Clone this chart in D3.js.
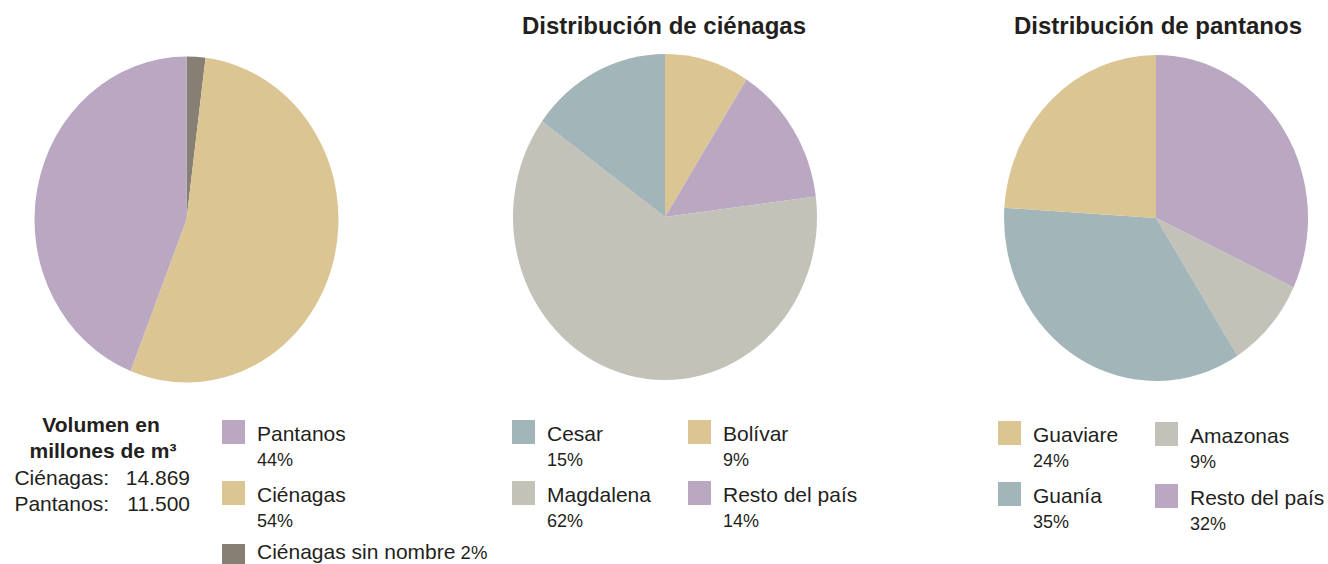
<!DOCTYPE html>
<html><head><meta charset="utf-8">
<script src="https://cdn.jsdelivr.net/npm/d3@7"></script>
<style>
html,body{margin:0;padding:0;background:#fff;}
svg{display:block;font-family:"Liberation Sans",Arial,Helvetica,sans-serif;}
</style></head>
<body>
<svg id="chart" width="1328" height="564"></svg>
<script>
// ---- data ----
const totalLabels = ["Ciénagas sin nombre", "Ciénagas", "Pantanos"];
const totalValues = [2, 54, 44];
const cienagaLabels = ["Bolívar", "Resto del país", "Magdalena", "Cesar"];
const cienagaValues = [9, 14, 62, 15];
const pantanoLabels = ["Resto del país", "Amazonas", "Guanía", "Guaviare"];
const pantanoValues = [32, 9, 35, 24];
const volumeLabels = ["Ciénagas:", "Pantanos:"];
const volumeValues = ["14.869", "11.500"];
const titles = ["Distribución de ciénagas", "Distribución de pantanos"];

const colorOf = {
  "Pantanos": "#BAA8C3", "Ciénagas": "#DBC593", "Ciénagas sin nombre": "#877F73",
  "Bolívar": "#DBC593", "Resto del país": "#BAA8C3", "Magdalena": "#C2C2B9", "Cesar": "#A2B5B8",
  "Amazonas": "#C2C2B9", "Guanía": "#A2B5B8", "Guaviare": "#DBC593"
};
const TXT = "#231F20";

const svg = d3.select("#chart");
const RY = 163, RX = 152;
const arc = d3.arc().innerRadius(0).outerRadius(RY);
const pie = d3.pie().sort(null).value(d => d.v);

function drawPie(cx, cy, labels, values) {
  const data = labels.map((l, i) => ({l, v: values[i]}));
  const g = svg.append("g").attr("transform", `translate(${cx},${cy}) scale(${RX/RY},1)`);
  g.selectAll("path").data(pie(data)).join("path")
    .attr("d", arc).attr("fill", d => colorOf[d.data.l]);
}
drawPie(186.5, 219.5, totalLabels, totalValues);
drawPie(665, 217, cienagaLabels, cienagaValues);
drawPie(1156, 218, pantanoLabels, pantanoValues);

// titles
svg.append("text").attr("x", 664).attr("y", 34).attr("text-anchor", "middle")
  .attr("font-size", 24).attr("font-weight", "bold").attr("fill", TXT).text(titles[0]);
svg.append("text").attr("x", 1158).attr("y", 34).attr("text-anchor", "middle")
  .attr("font-size", 24).attr("font-weight", "bold").attr("fill", TXT).text(titles[1]);

// volume block
const vb = svg.append("g").attr("fill", TXT).attr("font-size", 21);
vb.append("text").attr("x", 101).attr("y", 432).attr("text-anchor", "middle").attr("font-weight", "bold").text("Volumen en");
const t2 = vb.append("text").attr("x", 103).attr("y", 458).attr("text-anchor", "middle").attr("font-weight", "bold");
t2.append("tspan").text("millones de m");
t2.append("tspan").text("³");
volumeLabels.forEach((l, i) => {
  vb.append("text").attr("x", 109).attr("y", 485 + i*26).attr("text-anchor", "end").text(l);
  vb.append("text").attr("x", 190).attr("y", 485 + i*26).attr("text-anchor", "end").text(volumeValues[i]);
});

function legendItem(x, y, label, pct, inline) {
  const g = svg.append("g");
  g.append("rect").attr("x", x).attr("y", y).attr("width", 23).attr("height", 24).attr("fill", colorOf[label]);
  const t = g.append("text").attr("x", x + 35).attr("y", inline ? y + 15 : y + 20.5).attr("font-size", 21).attr("fill", TXT);
  t.append("tspan").text(label);
  if (inline) {
    t.append("tspan").attr("font-size", 18.5).text(" " + pct + "%");
  } else {
    g.append("text").attr("x", x + 35).attr("y", y + 45.5).attr("font-size", 18).attr("fill", TXT).text(pct + "%");
  }
}
// legend 1
legendItem(222, 420, totalLabels[2], totalValues[2]);
legendItem(222, 481, totalLabels[1], totalValues[1]);
legendItem(222, 544, totalLabels[0], totalValues[0], true);
// legend 2
legendItem(512, 420, cienagaLabels[3], cienagaValues[3]);
legendItem(512, 481, cienagaLabels[2], cienagaValues[2]);
legendItem(688, 420, cienagaLabels[0], cienagaValues[0]);
legendItem(688, 481, cienagaLabels[1], cienagaValues[1]);
// legend 3
legendItem(998, 421, pantanoLabels[3], pantanoValues[3]);
legendItem(998, 482, pantanoLabels[2], pantanoValues[2]);
legendItem(1155, 422, pantanoLabels[1], pantanoValues[1]);
legendItem(1155, 484, pantanoLabels[0], pantanoValues[0]);
</script>
</body></html>
